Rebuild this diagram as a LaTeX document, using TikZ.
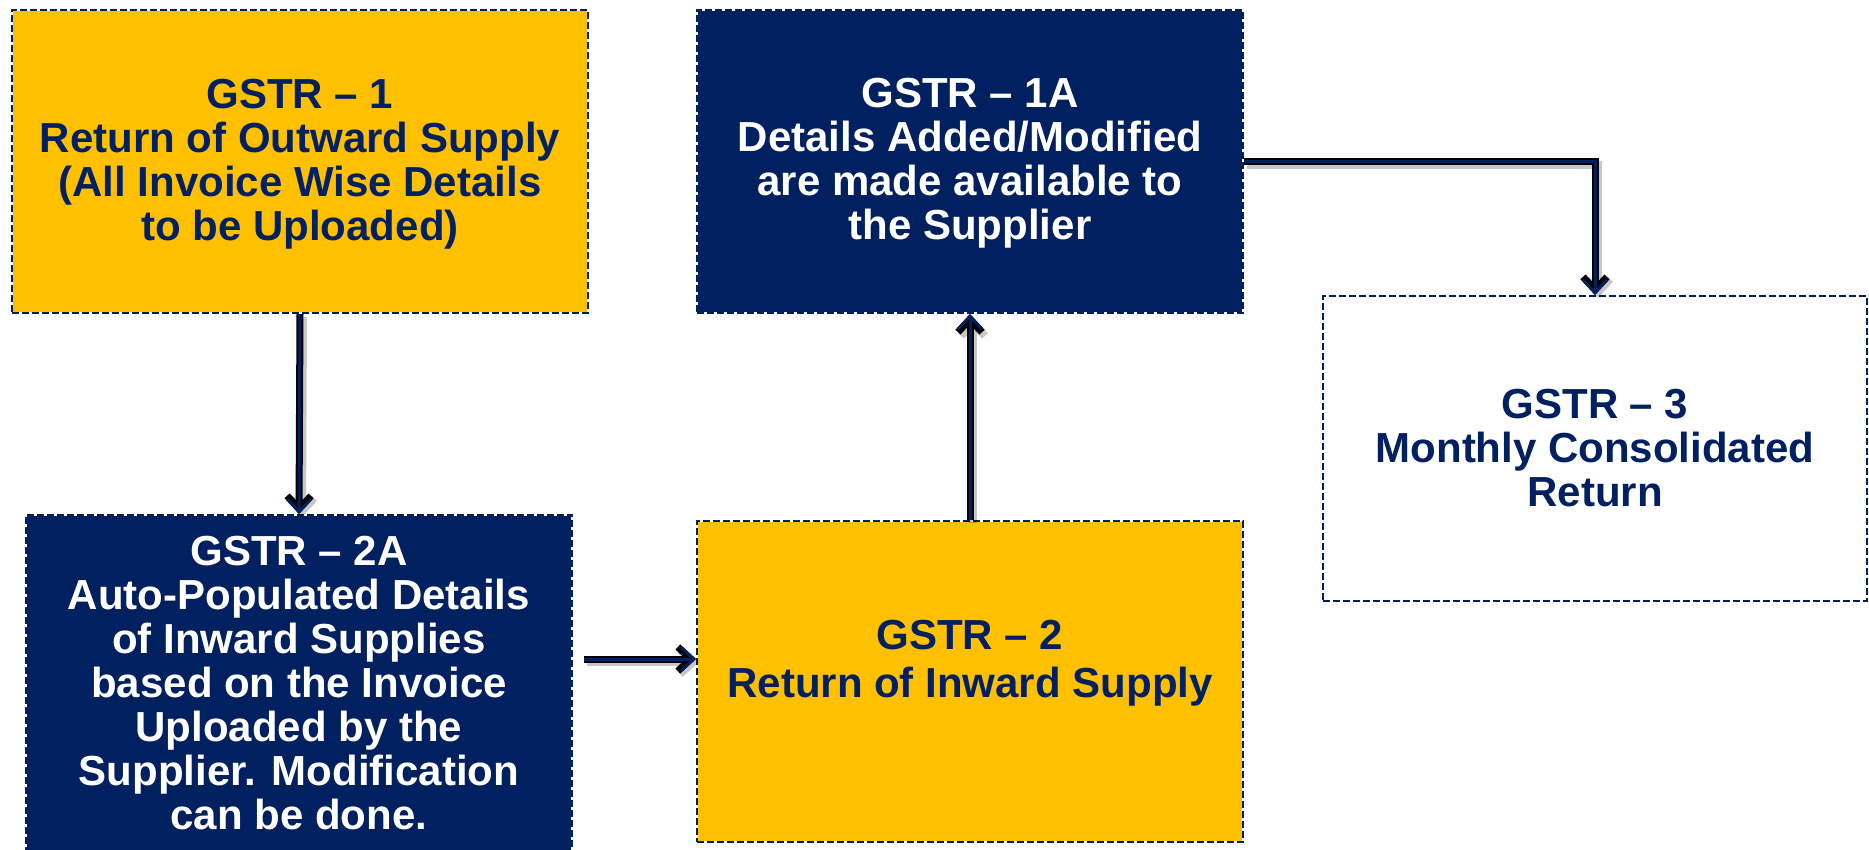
\documentclass[tikz,border=0pt]{standalone}
\usepackage{fontspec}
\setmainfont{Liberation Sans}
\usetikzlibrary{arrows.meta,calc}
\definecolor{navyc}{HTML}{002060}
\definecolor{yel}{HTML}{FFC000}
\tikzset{
  box/.style={rectangle, line width=2pt, draw=white, inner sep=0pt, align=center,
    font=\fontsize{42}{44}\selectfont\bfseries,
    postaction={draw=navyc, fill=none, dash pattern=on 7pt off 3pt, line width=2pt}},
  ybox/.style={box, fill=yel, text=navyc},
  nbox/.style={box, fill=navyc, text=white},
  wbox/.style={box, fill=white, text=navyc},
  arrshadow/.style={draw=black, opacity=0.22, line width=8pt, -{Straight Barb[length=13pt,width=24pt]},
    transform canvas={shift={(3,3)}}},
  arrout/.style={draw=black, line width=7pt, -{Straight Barb[length=13pt,width=24pt]}},
  arrin/.style={draw=navyc, line width=3pt, -{Straight Barb[length=13pt,width=24pt]}}
}
\newcommand\myconn[1]{\draw[arrshadow] #1; \draw[arrout] #1; \draw[arrin] #1;}
\begin{document}
\begin{tikzpicture}[x=1pt,y=-1pt]
\useasboundingbox (0,0) rectangle (1869,849);
\node[ybox, minimum width=576pt, minimum height=303pt] (g1) at (300,161.5)
  {\raisebox{-4pt}[\height][\depth]{\begin{tabular}{@{}c@{}}GSTR – 1\\Return of Outward Supply\\(All Invoice Wise Details\\to be Uploaded)\end{tabular}}};
\node[nbox, minimum width=546pt, minimum height=303pt] (g1a) at (970,161.5)
  {\raisebox{-3pt}[\height][\depth]{\begin{tabular}{@{}c@{}}GSTR – 1A\\Details Added/Modified\\are made available to\\the Supplier\end{tabular}}};
\node[wbox, minimum width=544pt, minimum height=305pt] (g3) at (1595,448.5)
  {GSTR – 3\\Monthly Consolidated\\Return};
\node[nbox, minimum width=546pt, minimum height=336pt] (g2a) at (299,683)
  {GSTR – 2A\\Auto-Populated Details\\of Inward Supplies\\based on the Invoice\\Uploaded by the\\Supplier. Modification\\can be done.};
\node[ybox, minimum width=546pt, minimum height=321pt] (g2) at (970,681.5)
  {\raisebox{17pt}[\height][\depth]{\begin{tabular}{@{}c@{}}GSTR – 2\\[4pt]Return of Inward Supply\end{tabular}}};
\coordinate (hs) at (584,659);
\myconn{(g1.south) -- (g2a.north)}
\myconn{(hs) -- (hs -| g2.west)}
\myconn{(g2.north) -- (g1a.south)}
\myconn{(g1a.east) -| (g3.north)}
\end{tikzpicture}
\end{document}
